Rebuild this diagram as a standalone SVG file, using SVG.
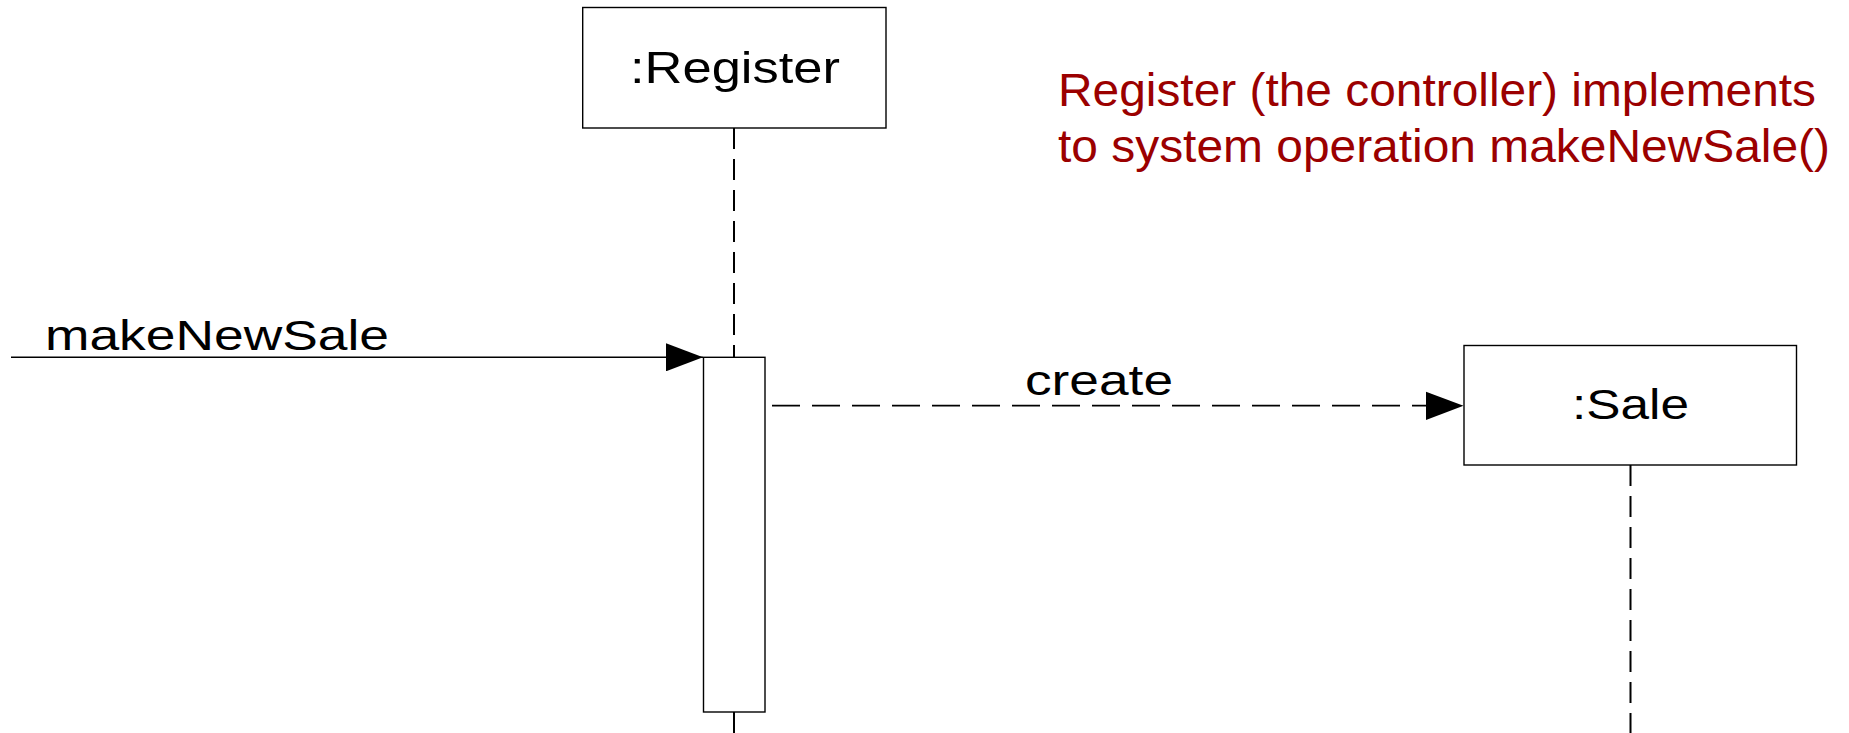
<svg xmlns="http://www.w3.org/2000/svg" width="1849" height="733" viewBox="0 0 1849 733">
<style>
.box{fill:#fff;stroke:#000;stroke-width:1.4}
.life{stroke:#000;stroke-width:2;stroke-dasharray:21 10;fill:none}
.msg{stroke:#000;stroke-width:1.4;fill:none}
.dash{stroke:#000;stroke-width:1.8;stroke-dasharray:28 12;fill:none}
.t{font-family:"Liberation Sans",Arial,sans-serif;fill:#000}
.note{font-family:"Liberation Sans",Arial,sans-serif;fill:#9b0000;font-size:47px}
</style>
<defs>
<marker id="ah" markerWidth="37" markerHeight="28" refX="37" refY="14" orient="auto" markerUnits="userSpaceOnUse">
<path d="M0,0 L37,14 L0,28 Z" fill="#000"/>
</marker>
</defs>
<rect width="1849" height="733" fill="#fff"/>
<g id="connectors">
<line class="life" x1="734" y1="128" x2="734" y2="357"/>
<line class="life" x1="734" y1="712" x2="734" y2="733"/>
<line class="life" x1="1630.5" y1="465" x2="1630.5" y2="733"/>
<line class="msg" x1="11" y1="357.3" x2="703" y2="357.3" marker-end="url(#ah)"/>
<line class="dash" x1="772" y1="405.7" x2="1426" y2="405.7"/>
<path d="M1426,391.7 L1463.5,405.7 L1426,420 Z" fill="#000"/>
<text class="t" x="45" y="350" font-size="43" textLength="344" lengthAdjust="spacingAndGlyphs">makeNewSale</text>
<text class="t" x="1025" y="395" font-size="43" textLength="148" lengthAdjust="spacingAndGlyphs">create</text>
</g>
<g id="register">
<rect class="box" x="582.7" y="7.5" width="303.3" height="120.5"/>
<rect class="box" x="703.5" y="357.3" width="61.5" height="354.7"/>
<text class="t" x="630" y="82.5" font-size="44" textLength="210" lengthAdjust="spacingAndGlyphs">:Register</text>
</g>
<g id="sale">
<rect class="box" x="1464" y="345.5" width="332.5" height="119.5"/>
<text class="t" x="1572" y="419" font-size="43" textLength="117" lengthAdjust="spacingAndGlyphs">:Sale</text>
</g>
<g id="note">
<text class="note" x="1058" y="106" textLength="758" lengthAdjust="spacingAndGlyphs">Register (the controller) implements</text>
<text class="note" x="1058" y="161.5" textLength="772" lengthAdjust="spacingAndGlyphs">to system operation makeNewSale()</text>
</g>
</svg>
